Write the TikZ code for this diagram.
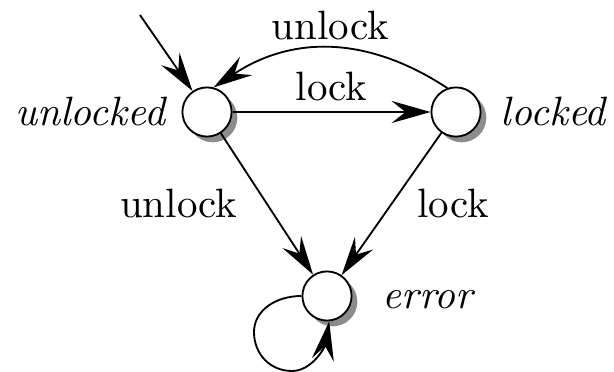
\documentclass[tikz,border=0pt]{standalone}
\usetikzlibrary{arrows.meta,shadows}
\begin{document}
\begin{tikzpicture}[x=0.244pt,y=0.244pt,
  state/.style={circle,draw,fill=white,minimum size=12pt,inner sep=0pt,line width=0.45pt,
    drop shadow={shadow xshift=1.4pt,shadow yshift=-1.4pt,fill=black!45,opacity=1}},
  lab/.style={inner sep=1.5pt},
  sname/.style={inner sep=1.5pt,font=\itshape},
  tr/.style={-{Stealth[length=9.5pt,width=5.4pt,inset=3.4pt]},line width=0.45pt}]
\useasboundingbox (0,0) rectangle (614,372);
\node[state] (u) at (207,260) {};
\node[state] (l) at (456,260) {};
\node[state] (e) at (327,76) {};
\node[sname,anchor=east] (ut) at (172,260) {unlocked};
\node[sname,anchor=west] (lt) at (494,260) {locked};
\node[sname,anchor=west] (et) at (376,72) {error};
\coordinate (init) at (140,357);
\draw[tr] (init) -- (u);
\draw[tr] (u) -- node[lab,above=1pt] {lock} (l);
\draw[tr] (l.110) .. controls (368,336) and (293,337) .. node[lab,above=0.3pt] {unlock} (u.75);
\draw[tr] (u) -- node[lab,left=5.5pt] {unlock} (e);
\draw[tr] (l) -- node[lab,right=4.5pt] {lock} (e);
\draw[tr] (e.180) .. controls (275,76) and (254,61) .. (254,40)
  .. controls (254,18) and (270,1) .. (292,1)
  .. controls (312,1) and (325,25) .. (e.275);
\end{tikzpicture}
\end{document}
